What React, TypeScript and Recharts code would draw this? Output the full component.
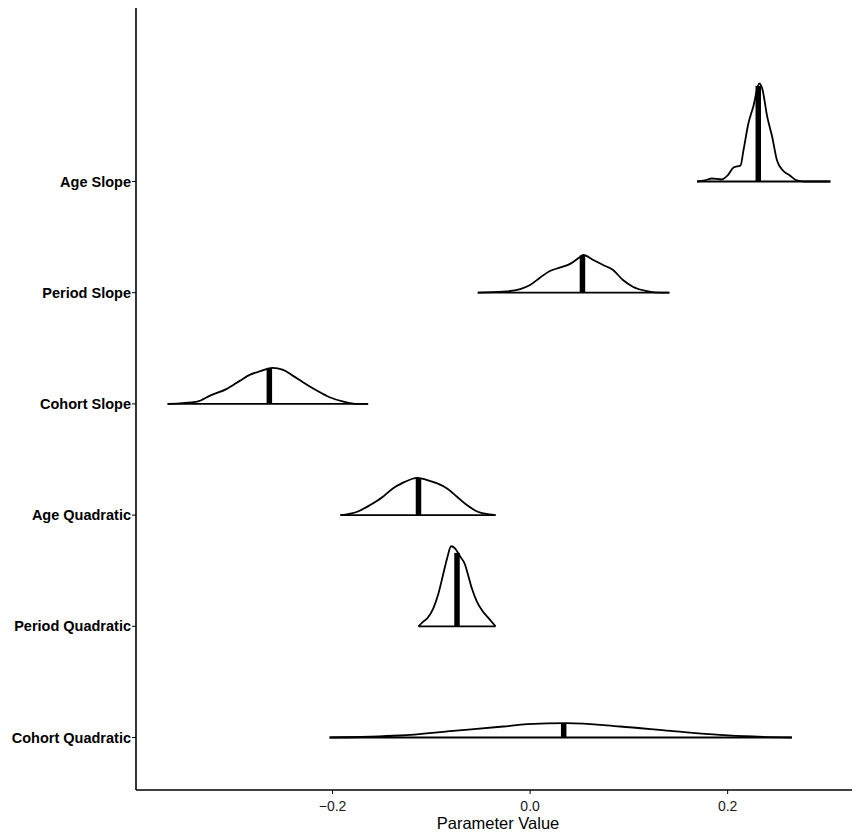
import { ComposedChart, Line, XAxis, YAxis, ReferenceLine } from "recharts";

// rows, bottom to top
const rowLabels = [
  "Cohort Quadratic",
  "Period Quadratic",
  "Age Quadratic",
  "Cohort Slope",
  "Period Slope",
  "Age Slope",
];

// density outlines (x = parameter value, d = height in row units)
const cohortQuadX = [-0.203, -0.132, -0.078, -0.027, -0.003, 0.037, 0.091, 0.142, 0.192, 0.226, 0.265];
const cohortQuadD = [0, 0.018, 0.06, 0.099, 0.12, 0.129, 0.099, 0.06, 0.024, 0.009, 0];

const periodQuadX = [-0.113, -0.109, -0.104, -0.098, -0.093, -0.088, -0.084, -0.08, -0.076, -0.071, -0.066, -0.063, -0.059, -0.054, -0.048, -0.041, -0.035];
const periodQuadD = [0, 0.036, 0.072, 0.162, 0.288, 0.468, 0.612, 0.72, 0.7, 0.63, 0.558, 0.468, 0.342, 0.225, 0.135, 0.063, 0];

const ageQuadX = [-0.192, -0.175, -0.162, -0.149, -0.139, -0.13, -0.114, -0.104, -0.094, -0.084, -0.074, -0.064, -0.053, -0.041, -0.035];
const ageQuadD = [0, 0.03, 0.09, 0.165, 0.24, 0.285, 0.335, 0.315, 0.285, 0.24, 0.165, 0.09, 0.03, 0.006, 0];

const cohortSlopeX = [-0.367, -0.337, -0.324, -0.307, -0.294, -0.284, -0.273, -0.261, -0.25, -0.24, -0.23, -0.216, -0.203, -0.189, -0.175, -0.164];
const cohortSlopeD = [0, 0.021, 0.075, 0.135, 0.207, 0.261, 0.294, 0.324, 0.306, 0.252, 0.195, 0.12, 0.06, 0.021, 0, 0];

const periodSlopeX = [-0.053, -0.027, -0.01, 0, 0.01, 0.02, 0.03, 0.041, 0.051, 0.054, 0.064, 0.074, 0.084, 0.094, 0.104, 0.118, 0.132, 0.141];
const periodSlopeD = [0, 0.009, 0.033, 0.069, 0.135, 0.195, 0.225, 0.261, 0.324, 0.339, 0.294, 0.249, 0.204, 0.114, 0.054, 0.015, 0, 0];

const ageSlopeX = [0.169, 0.177, 0.184, 0.194, 0.2, 0.206, 0.213, 0.216, 0.221, 0.226, 0.232, 0.235, 0.24, 0.245, 0.25, 0.256, 0.263, 0.27, 0.278, 0.304];
const ageSlopeD = [0, 0.01, 0.027, 0.018, 0.054, 0.126, 0.144, 0.279, 0.522, 0.674, 0.881, 0.836, 0.585, 0.405, 0.189, 0.099, 0.054, 0.009, 0, 0];

const medians = [0.034, -0.074, -0.113, -0.264, 0.053, 0.231];
const medianHeights = [0.128, 0.66, 0.335, 0.32, 0.335, 0.86];

const xTicks = [-0.2, 0, 0.2];

const ridges = [
  { x: cohortQuadX, d: cohortQuadD },
  { x: periodQuadX, d: periodQuadD },
  { x: ageQuadX, d: ageQuadD },
  { x: cohortSlopeX, d: cohortSlopeD },
  { x: periodSlopeX, d: periodSlopeD },
  { x: ageSlopeX, d: ageSlopeD },
];

const font = '"Liberation Sans", Arial, Helvetica, sans-serif';

export default function App() {
  return (
    <ComposedChart
      width={852}
      height={830}
      margin={{ top: 0, right: 0, bottom: 0, left: 0 }}
      style={{ fontFamily: font }}
    >
      <XAxis
        type="number"
        dataKey="x"
        domain={[-0.399, 0.334]}
        ticks={xTicks}
        allowDataOverflow
        tickFormatter={(v: number) => v.toFixed(1).replace("-", "\u2212")}
        height={48}
        tickSize={4}
        tickMargin={7}
        tick={{ fontSize: 14, fill: "#1a1a1a" }}
        stroke="#000"
        axisLine={{ stroke: "#000", strokeWidth: 1.6 }}
        label={{
          value: "Parameter Value",
          position: "insideBottom",
          offset: 9,
          fontSize: 16.5,
          fill: "#000",
        }}
      />
      <YAxis
        type="number"
        domain={[-0.472, 6.56]}
        ticks={[0, 1, 2, 3, 4, 5]}
        allowDataOverflow
        width={128}
        tickSize={4}
        tickMargin={1}
        tickFormatter={(v: number) => rowLabels[v]}
        tick={{ fontSize: 14.5, fontWeight: 700, fill: "#000" }}
        stroke="#000"
        axisLine={{ stroke: "#000", strokeWidth: 1.6 }}
      />
      {ridges.map((r, i) => (
        <ReferenceLine
          key={"base" + i}
          segment={[
            { x: r.x[0], y: i },
            { x: r.x[r.x.length - 1], y: i },
          ]}
          stroke="#000"
          strokeWidth={1.8}
        />
      ))}
      {ridges.map((r, i) => (
        <Line
          key={"ridge" + i}
          data={r.x.map((x, j) => ({ x, y: i + r.d[j] }))}
          dataKey="y"
          type="monotone"
          stroke="#000"
          strokeWidth={1.8}
          dot={false}
          activeDot={false}
          isAnimationActive={false}
        />
      ))}
      {medians.map((m, i) => (
        <ReferenceLine
          key={"med" + i}
          segment={[
            { x: m, y: i },
            { x: m, y: i + medianHeights[i] },
          ]}
          stroke="#000"
          strokeWidth={5.5}
        />
      ))}
    </ComposedChart>
  );
}
